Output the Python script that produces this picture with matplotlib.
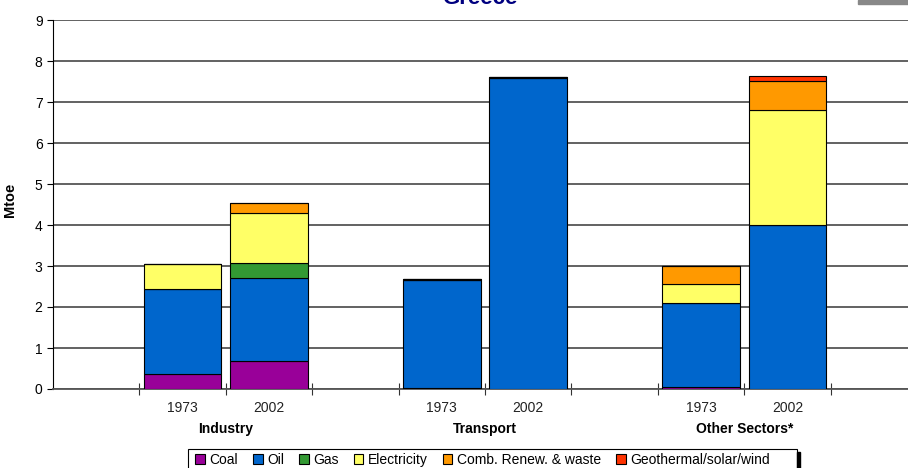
import matplotlib
matplotlib.use("Agg")
import matplotlib.pyplot as plt
from matplotlib.patches import Rectangle
from matplotlib.transforms import blended_transform_factory
import numpy as np

plt.rcParams['font.family'] = ['Liberation Sans', 'DejaVu Sans']

# final consumption by sector and fuel, Mtoe
groups = ['Industry', 'Transport', 'Other Sectors*']
years = ['1973', '2002']
coal = [0.36, 0.68, 0.02, 0.00, 0.04, 0.00]
oil = [2.07, 2.02, 2.65, 7.59, 2.05, 3.99]
gas = [0.00, 0.37, 0.00, 0.00, 0.00, 0.02]
electricity = [0.61, 1.22, 0.02, 0.02, 0.48, 2.80]
comb_renew = [0.00, 0.24, 0.00, 0.00, 0.44, 0.70]
geo_solar_wind = [0.00, 0.00, 0.00, 0.00, 0.00, 0.12]

series = [
    ('Coal', coal, '#990099'),
    ('Oil', oil, '#0066CC'),
    ('Gas', gas, '#339933'),
    ('Electricity', electricity, '#FFFF66'),
    ('Comb. Renew. & waste', comb_renew, '#FF9900'),
    ('Geothermal/solar/wind', geo_solar_wind, '#FF3300'),
]

# slots: empty, 1973, 2002 for each sector, then an empty one at the end
xpos = np.array([1, 2, 4, 5, 7, 8])

fig = plt.figure(figsize=(9.08, 4.68), dpi=100)
ax = fig.add_axes([53 / 908, (468 - 389) / 468, 864 / 908, 369 / 468])

bottom = np.zeros(len(xpos))
for name, vals, col in series:
    vals = np.array(vals)
    ax.bar(xpos, vals, width=0.9, bottom=bottom, color=col,
           edgecolor='black', linewidth=0.8, label=name, zorder=3)
    bottom += vals

ax.set_xlim(-0.5, 9.5)
ax.set_ylim(0, 9)
ax.set_yticks(range(10))
ax.tick_params(axis='y', labelsize=10, length=4, direction='out', width=0.8)
ax.yaxis.grid(True, color='#555555', linewidth=1.3, zorder=0)
ax.set_axisbelow(True)

ax.set_xticks([0.5, 1.5, 2.5, 3.5, 4.5, 5.5, 6.5, 7.5, 8.5])
ax.set_xticklabels([])
ax.tick_params(axis='x', direction='inout', length=9, width=0.8, color='#333333')

for s in ['top', 'right']:
    ax.spines[s].set_visible(False)
ax.spines['left'].set_color('black')
ax.spines['bottom'].set_color('#555555')
ax.spines['bottom'].set_linewidth(1.3)

ax.set_ylabel('Mtoe', fontsize=10.5, fontweight='bold')
ax.yaxis.set_label_coords(-36 / 864, 189 / 369)

# year and sector labels under the axis
blend = blended_transform_factory(ax.transData, ax.transAxes)
for i, x in enumerate(xpos):
    ax.text(x, -19 / 369, years[i % 2], transform=blend,
            ha='center', va='center', fontsize=10, color='#222222')
for g, x in zip(groups, [1.5, 4.5, 7.5]):
    ax.text(x, -40 / 369, g, transform=blend, ha='center', va='center',
            fontsize=10, fontweight='bold')

fig.text(480 / 908, 1 - 4 / 468, 'Greece', ha='center', va='baseline',
         fontsize=16, fontweight='bold', color='#000080')
fig.patches.append(Rectangle((858 / 908, 1 - 4 / 468), 50 / 908, 4 / 468,
                             transform=fig.transFigure, color='#888888'))

# legend box with a dark shadow edge on the right
fig.patches.append(Rectangle((188 / 908, -2 / 468), 609 / 908, 21 / 468,
                             transform=fig.transFigure, facecolor='white',
                             edgecolor='black', linewidth=0.8, zorder=1))
fig.patches.append(Rectangle((797 / 908, -2 / 468), 3 / 908, 18 / 468,
                             transform=fig.transFigure, color='black', zorder=1))
leg = fig.legend(loc='center left', bbox_to_anchor=(195 / 908, (468 - 460) / 468),
                 ncol=6, fontsize=10, frameon=False, borderaxespad=0,
                 handlelength=0.7, handleheight=0.7, handletextpad=0.35,
                 columnspacing=1.05, borderpad=0)
for h in leg.legend_handles:
    h.set_linewidth(0.8)

fig.savefig('out.png', dpi=100)
